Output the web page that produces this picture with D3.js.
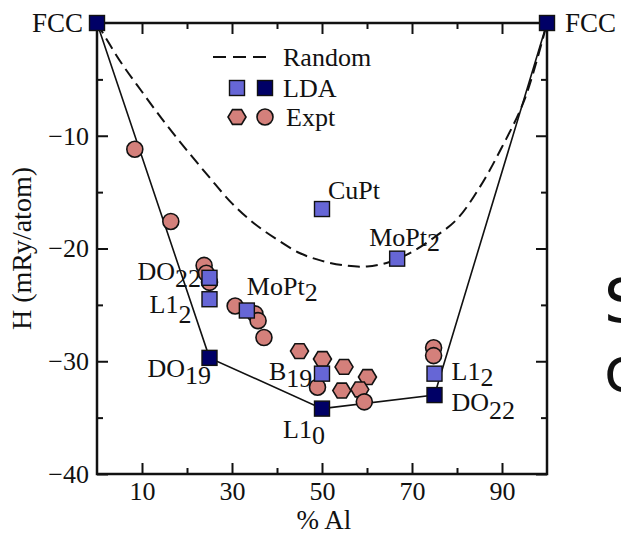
<!DOCTYPE html>
<html>
<head>
<meta charset="utf-8">
<script src="https://cdn.jsdelivr.net/npm/d3@7"></script>
<style>
  body { margin: 0; background: #fff; }
  svg { display: block; }
  text { font-family: "Liberation Serif", "Times New Roman", serif; fill: #111; }
</style>
</head>
<body>
<div id="chart"></div>
<script>
// Formation enthalpy vs composition (% Al)
const randomX = [0, 5, 10, 15, 20, 25, 30, 35, 40, 45, 50, 55, 60, 65, 70, 75, 80, 85, 90, 95, 100];
const randomH = [0, -3.3, -6.1, -8.8, -11.3, -13.7, -16.0, -17.8, -19.2, -20.4, -21.1, -21.5, -21.6, -21.2, -20.3, -19.0, -17.4, -14.6, -11.0, -6.8, 0];

// LDA ground states (dark squares, joined by the hull line)
const hullX = [0, 25, 50, 75, 100];
const hullH = [0, -29.7, -34.2, -33.0, 0];
const hullNames = ["FCC", "DO19", "L10", "DO22", "FCC"];

// LDA other structures (light squares)
const ldaX = [25, 25, 33.3, 50, 50, 66.7, 75];
const ldaH = [-22.6, -24.5, -25.5, -16.5, -31.1, -20.9, -31.1];
const ldaNames = ["DO22", "L12", "MoPt2", "CuPt", "B19", "MoPt2", "L12"];

// Experimental points
const circX = [8.4, 16.4, 23.8, 24.3, 25.0, 30.7, 35.1, 35.8, 37.1, 49.0, 59.4, 74.8, 74.8];
const circH = [-11.2, -17.6, -21.5, -22.2, -23.0, -25.1, -25.8, -26.4, -27.9, -32.3, -33.6, -28.8, -29.5];
const hexX = [45, 50.1, 54.9, 60.1, 58.4, 54.4];
const hexH = [-29.1, -29.8, -30.5, -31.4, -32.5, -32.6];

const xMajor = [10, 30, 50, 70, 90];
const xMinor = [20, 40, 60, 80];
const yMajor = [-10, -20, -30, -40];
const yMinor = [-5, -15, -25, -35];

const width = 621, height = 535;
const plotLeft = 97, plotRight = 547, plotTop = 23, plotBottom = 474;
const serif = '"Liberation Serif", "Times New Roman", serif';

const svg = d3.select('#chart').append('svg')
    .attr('width', width)
    .attr('height', height)
    .style('font-family', serif);

const x = d3.scaleLinear().domain([0, 100]).range([plotLeft, plotRight]);
const y = d3.scaleLinear().domain([0, -40]).range([plotTop, plotBottom]);

const pink = '#d4807b', light = '#6666d6', dark = '#000066';

// axes with inward ticks
const axes = [
  [() => d3.axisBottom(x), `translate(0,${plotBottom})`, xMajor, xMinor, true],
  [() => d3.axisTop(x), `translate(0,${plotTop})`, xMajor, xMinor, false],
  [() => d3.axisLeft(y), `translate(${plotLeft},0)`, yMajor, yMinor, true],
  [() => d3.axisRight(y), `translate(${plotRight},0)`, yMajor, yMinor, false]
];
axes.forEach(([makeAxis, tr, major, minor, labels]) => {
  [[major, 11, labels], [minor, 6, false]].forEach(([vals, size, showText]) => {
    const ax = makeAxis().tickValues(vals).tickSizeInner(-size).tickSizeOuter(0).tickPadding(8);
    if (!showText) ax.tickFormat('');
    const g = svg.append('g').attr('transform', tr).call(ax)
        .attr('font-family', null).attr('font-size', null);
    g.select('.domain').remove();
    g.selectAll('line').attr('stroke', '#111').attr('stroke-width', 2);
    g.selectAll('text').style('font-size', '26px').style('font-family', serif).attr('fill', '#111');
  });
});

svg.append('rect')
    .attr('x', plotLeft).attr('y', plotTop)
    .attr('width', plotRight - plotLeft).attr('height', plotBottom - plotTop)
    .attr('fill', 'none').attr('stroke', '#111').attr('stroke-width', 2.5);

// axis titles
svg.append('text')
    .attr('x', x(50) + 2).attr('y', 529)
    .attr('text-anchor', 'middle').style('font-size', '27px')
    .text('% Al');
svg.append('text')
    .attr('transform', `translate(31,${y(-20)}) rotate(-90)`)
    .attr('text-anchor', 'middle').style('font-size', '28px')
    .text('H (mRy/atom)');

// random alloy curve
svg.append('path')
    .datum(randomX.map((v, i) => [v, randomH[i]]))
    .attr('d', d3.line().x(d => x(d[0])).y(d => y(d[1])).curve(d3.curveCatmullRom))
    .attr('fill', 'none').attr('stroke', '#111').attr('stroke-width', 2)
    .attr('stroke-dasharray', '12,6');

// ground state hull
svg.append('path')
    .datum(hullX.map((v, i) => [v, hullH[i]]))
    .attr('d', d3.line().x(d => x(d[0])).y(d => y(d[1])))
    .attr('fill', 'none').attr('stroke', '#111').attr('stroke-width', 1.6);

// experiment markers
const hexPath = r => d3.range(6).map(i => {
  const a = i * Math.PI / 3;
  return [r * Math.cos(a), r * Math.sin(a) * 0.95];
});
function hexagon(g, cx, cy) {
  g.append('polygon')
    .attr('points', hexPath(9).map(p => [cx + p[0], cy + p[1]].join(',')).join(' '))
    .attr('fill', pink).attr('stroke', '#111').attr('stroke-width', 1.6);
}
function circle(g, cx, cy) {
  g.append('circle')
    .attr('cx', cx).attr('cy', cy).attr('r', 8)
    .attr('fill', pink).attr('stroke', '#111').attr('stroke-width', 1.6);
}
function square(g, cx, cy, fill) {
  g.append('rect')
    .attr('x', cx - 7.5).attr('y', cy - 7.5).attr('width', 15).attr('height', 15)
    .attr('fill', fill).attr('stroke', '#111').attr('stroke-width', 1.4);
}

const marks = svg.append('g');
hexX.forEach((v, i) => hexagon(marks, x(v), y(hexH[i])));
circX.forEach((v, i) => circle(marks, x(v), y(circH[i])));
ldaX.forEach((v, i) => square(marks, x(v), y(ldaH[i]), light));
hullX.forEach((v, i) => square(marks, x(v), y(hullH[i]), dark));

// structure labels: base text + subscript, offset from the point
function label(px, py, name, dx, dy, subDy) {
  const t = svg.append('text').attr('x', px + dx).attr('y', py + dy).style('font-size', '26px');
  if (name === 'CuPt') { t.text(name); return; }
  const split = name.startsWith('L1') ? 2 : name.startsWith('B') ? 1 : name.length - (name.startsWith('DO') ? 2 : 1);
  t.append('tspan').text(name.slice(0, split));
  t.append('tspan').attr('dy', subDy).text(name.slice(split));
}
const hullLabelPos = [[-14, 9, 0, 'end'], [-62, 19, 7], [-39, 29, 6], [17, 16, 8], [18, 9, 0]];
hullX.forEach((v, i) => {
  const [dx, dy, sd, anchor] = hullLabelPos[i];
  if (hullNames[i] === 'FCC') {
    svg.append('text').attr('x', x(v) + dx).attr('y', y(hullH[i]) + dy)
      .style('font-size', '27px').attr('text-anchor', anchor || 'start').text('FCC');
  } else {
    label(x(v), y(hullH[i]), hullNames[i], dx, dy, sd);
  }
});
const ldaLabelPos = [[-72, 2, 7], [-60, 14, 10], [0, -16, 6], [6, -10, 0], [-53, 6, 7], [-28, -13, 5], [17, 6, 6]];
ldaX.forEach((v, i) => {
  const [dx, dy, sd] = ldaLabelPos[i];
  label(x(v), y(ldaH[i]), ldaNames[i], dx, dy, sd);
});

// legend
const lg = svg.append('g');
lg.append('line').attr('x1', 213).attr('x2', 268).attr('y1', 57).attr('y2', 57)
  .attr('stroke', '#111').attr('stroke-width', 2).attr('stroke-dasharray', '13,7');
lg.append('text').attr('x', 283).attr('y', 66).style('font-size', '26px').text('Random');
square(lg, 237, 88, light);
square(lg, 265, 88, dark);
lg.append('text').attr('x', 283).attr('y', 97).style('font-size', '26px').text('LDA');
hexagon(lg, 237, 117);
circle(lg, 265, 117);
lg.append('text').attr('x', 286).attr('y', 126).style('font-size', '26px').text('Expt');

// slide text running off the right edge
svg.append('text').attr('x', 604).attr('y', 322)
  .style('font-family', '"DejaVu Sans", sans-serif').style('font-size', '60px').text('S');
svg.append('text').attr('x', 604).attr('y', 391)
  .style('font-family', '"DejaVu Sans", sans-serif').style('font-size', '60px').text('c');
</script>
</body>
</html>
